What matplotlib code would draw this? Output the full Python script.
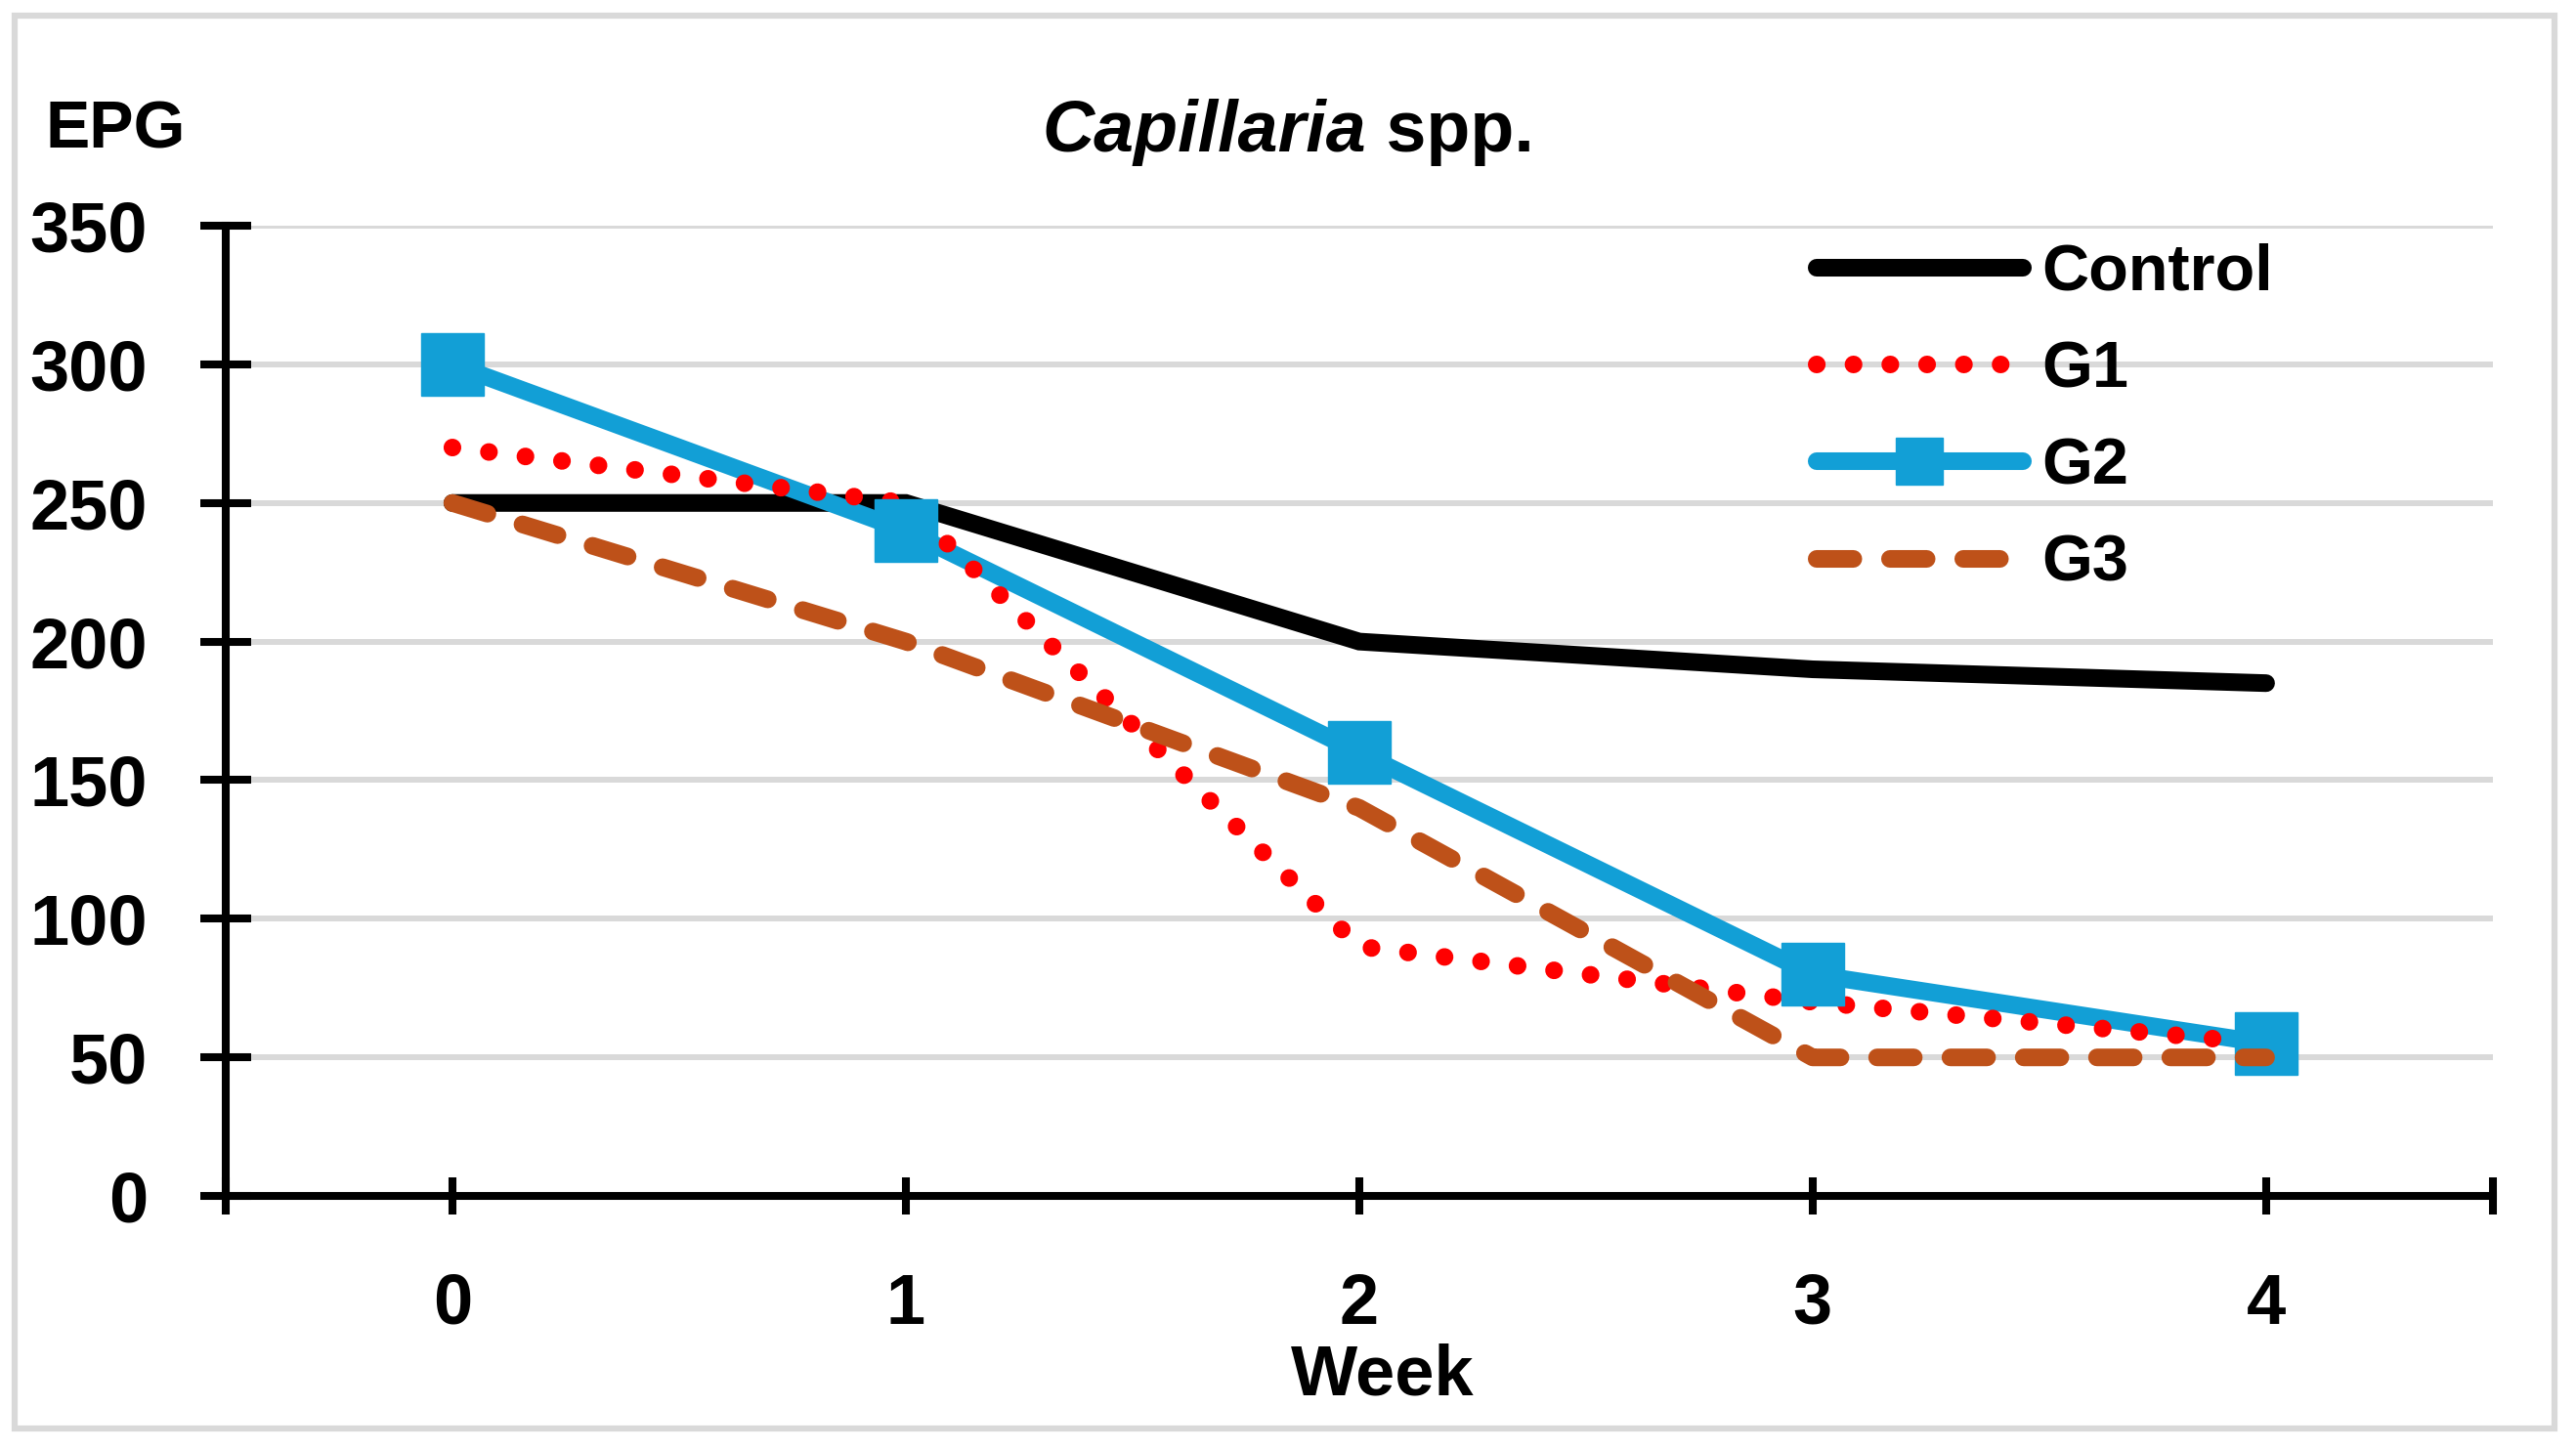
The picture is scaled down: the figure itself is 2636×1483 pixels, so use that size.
import matplotlib
matplotlib.use("Agg")
import matplotlib.pyplot as plt
from matplotlib.lines import Line2D
from matplotlib.patches import Rectangle

# Data
# ****
weeks = [0, 1, 2, 3, 4]
control = [250, 250, 200, 190, 185]
g1 = [270, 250, 90, 70, 55]
g2 = [300, 240, 160, 80, 55]
g3 = [250, 200, 140, 50, 50]
series_names = ["Control", "G1", "G2", "G3"]
x_tick_pos = [-0.5, 0, 1, 2, 3, 4, 4.5]
x_tick_labels = ["", "0", "1", "2", "3", "4", ""]
y_ticks = [0, 50, 100, 150, 200, 250, 300, 350]

# Style
plt.rcParams["font.family"] = ["Liberation Sans", "DejaVu Sans"]
plt.rcParams["font.weight"] = "bold"
plt.rcParams["lines.scale_dashes"] = False

BLUE = "#129FD6"
BROWN = "#BE5119"
GRID = "#D9D9D9"
LW = 13
DOTS = (0, (0.1, 27))
DASHES = (0, (27, 27))

fig = plt.figure(figsize=(26.36, 14.83), dpi=100)
ax = fig.add_axes([0.0876, 0.1746, 0.8801, 0.6696])

# Outer chart border
fig.patches.append(Rectangle((0.0057, 0.0142), 0.986, 0.975, transform=fig.transFigure,
                             fill=False, edgecolor=GRID, lw=4.5, zorder=0))

# Lines
ctrl_line, = ax.plot(weeks, control, color="black", lw=LW, solid_capstyle="round",
                     solid_joinstyle="miter", zorder=2)
ax.plot(weeks, g2, color=BLUE, lw=LW, solid_capstyle="round", zorder=3)
ax.plot(weeks, g1, color="red", lw=LW, linestyle=DOTS, dash_capstyle="round",
        dash_joinstyle="round", zorder=4)
ax.plot(weeks, g2, ls="none", marker="s", markersize=46, color=BLUE, zorder=5)
g3_line, = ax.plot(weeks, g3, color=BROWN, lw=LW, linestyle=DASHES,
                   dash_capstyle="round", dash_joinstyle="round", zorder=6)

# Axes
ax.set_xlim(-0.5, 4.5)
ax.set_ylim(0, 350)
ax.set_xticks(x_tick_pos)
ax.set_xticklabels(x_tick_labels)
ax.set_yticks(y_ticks)
ax.tick_params(axis="y", direction="inout", length=37, width=5.8, pad=39, labelsize=52)
ax.tick_params(axis="x", direction="inout", length=28, width=5.8, pad=42, labelsize=52)
for side in ["top", "right"]:
    ax.spines[side].set_visible(False)
for side in ["left", "bottom"]:
    ax.spines[side].set_linewidth(5.8)
ax.yaxis.grid(True, color=GRID, lw=4.3)
ax.set_axisbelow(True)

# Legend
g1_proxy = Line2D([], [], color="red", lw=LW, linestyle=DOTS, dash_capstyle="round")
g2_proxy = Line2D([], [], color=BLUE, lw=LW, marker="s", markersize=46, solid_capstyle="round")
handles = [ctrl_line, g1_proxy, g2_proxy, g3_line]
ax.legend(handles, series_names, loc="upper left", bbox_to_anchor=(0.7052, 0.8321),
          bbox_transform=fig.transFigure, frameon=False, borderpad=0, borderaxespad=0,
          handlelength=3.16, handletextpad=0.3, labelspacing=0.56, markerscale=0.75,
          prop={"size": 48, "weight": "bold"})

# Texts
fig.text(46 / 2636, 1 - 151 / 1483, "EPG", fontsize=49, fontweight="bold", va="baseline")
fig.text(1415 / 2636, 1 - 1428 / 1483, "Week", fontsize=52, fontweight="bold",
         ha="center", va="baseline")

t1 = fig.text(0, 1 - 155 / 1483, "Capillaria", fontsize=53, fontweight="bold",
              fontstyle="italic", va="baseline")
t2 = fig.text(0, 1 - 155 / 1483, " spp.", fontsize=53, fontweight="bold", va="baseline")
fig.canvas.draw()
r = fig.canvas.get_renderer()
w1 = t1.get_window_extent(r).width
w2 = t2.get_window_extent(r).width
x0 = 1318 - (w1 + w2) / 2
t1.set_x(x0 / 2636)
t2.set_x((x0 + w1) / 2636)

fig.savefig("out.png", dpi=100)
